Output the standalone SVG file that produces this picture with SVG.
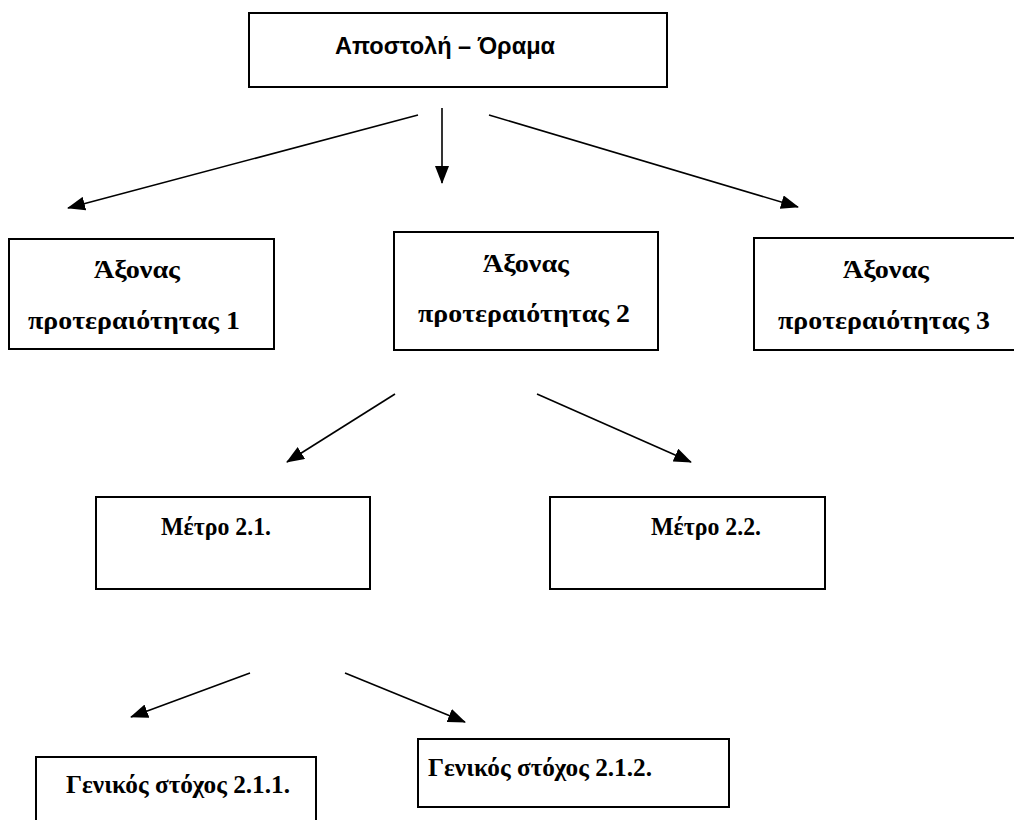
<svg xmlns="http://www.w3.org/2000/svg" width="1014" height="820" viewBox="0 0 1014 820">
  <style>
    .box { fill: #ffffff; stroke: #000000; stroke-width: 2; }
    .sans { font-family: "Liberation Sans", "DejaVu Sans", sans-serif; font-weight: bold; font-size: 23px; fill: #000; }
    .serif { font-family: "Liberation Serif", "Times New Roman", serif; font-weight: bold; font-size: 25px; fill: #000; }
    .conn { stroke: #000000; stroke-width: 1.6; fill: none; marker-end: url(#arrow); }
  </style>
  <defs>
    <marker id="arrow" markerUnits="userSpaceOnUse" markerWidth="18" markerHeight="14" refX="17" refY="7" orient="auto">
      <path d="M0,0 L18,7 L0,14 Z" fill="#000"/>
    </marker>
  </defs>
  <rect width="1014" height="820" fill="#ffffff"/>

  <g id="connectors">
    <line class="conn" x1="418" y1="115" x2="68" y2="208"/>
    <line class="conn" x1="442" y1="108" x2="442" y2="183"/>
    <line class="conn" x1="489" y1="115" x2="798" y2="207"/>
    <line class="conn" x1="395" y1="394" x2="287" y2="462"/>
    <line class="conn" x1="537" y1="394" x2="691" y2="462"/>
    <line class="conn" x1="250" y1="673" x2="131" y2="717"/>
    <line class="conn" x1="345" y1="673" x2="465" y2="722"/>
  </g>

  <g id="node-mission">
    <rect class="box" x="249" y="13" width="418" height="74"/>
    <text class="sans" x="445" y="54" text-anchor="middle" textLength="220" lengthAdjust="spacingAndGlyphs">Αποστολή – Όραμα</text>
  </g>

  <g id="node-axis1">
    <rect class="box" x="9" y="239" width="265" height="110"/>
    <text class="serif" x="137" y="278" text-anchor="middle" textLength="86" lengthAdjust="spacingAndGlyphs">Άξονας</text>
    <text class="serif" x="134" y="329" text-anchor="middle" textLength="212" lengthAdjust="spacingAndGlyphs">προτεραιότητας 1</text>
  </g>

  <g id="node-axis2">
    <rect class="box" x="394" y="232" width="264" height="118"/>
    <text class="serif" x="526" y="272" text-anchor="middle" textLength="86" lengthAdjust="spacingAndGlyphs">Άξονας</text>
    <text class="serif" x="524" y="322" text-anchor="middle" textLength="212" lengthAdjust="spacingAndGlyphs">προτεραιότητας 2</text>
  </g>

  <g id="node-axis3">
    <rect class="box" x="754" y="238" width="270" height="112"/>
    <text class="serif" x="886" y="278" text-anchor="middle" textLength="86" lengthAdjust="spacingAndGlyphs">Άξονας</text>
    <text class="serif" x="884" y="329" text-anchor="middle" textLength="212" lengthAdjust="spacingAndGlyphs">προτεραιότητας 3</text>
  </g>

  <g id="node-measure21">
    <rect class="box" x="96" y="497" width="274" height="92"/>
    <text class="serif" x="216" y="535" text-anchor="middle" textLength="110" lengthAdjust="spacingAndGlyphs">Μέτρο 2.1.</text>
  </g>

  <g id="node-measure22">
    <rect class="box" x="550" y="497" width="275" height="92"/>
    <text class="serif" x="706" y="535" text-anchor="middle" textLength="110" lengthAdjust="spacingAndGlyphs">Μέτρο 2.2.</text>
  </g>

  <g id="node-goal211">
    <rect class="box" x="36" y="757" width="280" height="70"/>
    <text class="serif" x="178" y="793" text-anchor="middle" textLength="224" lengthAdjust="spacingAndGlyphs">Γενικός στόχος 2.1.1.</text>
  </g>

  <g id="node-goal212">
    <rect class="box" x="418" y="739" width="311" height="68"/>
    <text class="serif" x="540" y="776" text-anchor="middle" textLength="224" lengthAdjust="spacingAndGlyphs">Γενικός στόχος 2.1.2.</text>
  </g>
</svg>
